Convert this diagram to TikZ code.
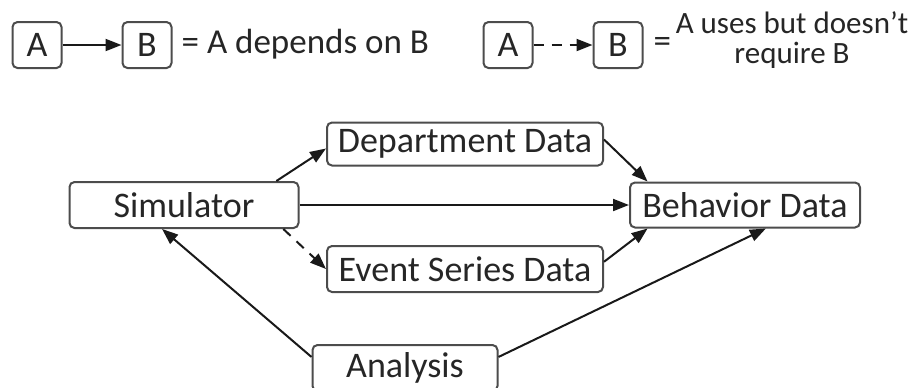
\documentclass[tikz,border=0pt]{standalone}
\usepackage{fontspec}
\setmainfont{Carlito}
\usetikzlibrary{arrows.meta,calc,positioning}

\begin{document}
\begin{tikzpicture}[x=0.5pt,y=-0.5pt,line width=1pt]
    \tikzset{BoxStyle/.style = {draw=black!70, rounded corners=2.5pt,
        inner sep=0pt, font=\fontsize{18}{20}\selectfont, text=black!85},
      EdgeStyle/.style = {-{Triangle[length=8pt,width=6pt]}, black!90},
      TextStyle/.style = {font=\fontsize{17.5}{17}\selectfont, text=black!85}}
    \useasboundingbox (0,0) rectangle (918,387);

    % legend
    \node[BoxStyle,minimum width=24.5pt,minimum height=23pt] (LA0) at (37,45) {A};
    \node[BoxStyle,minimum width=24.5pt,minimum height=23pt] (LB0) at (147,45) {B};
    \draw[EdgeStyle] (LA0) -- (LB0);
    \node[TextStyle,anchor=west] (LT0) at (174,44) {= A depends on B};

    \node[BoxStyle,minimum width=24.5pt,minimum height=23pt] (LA1) at (508,45) {A};
    \node[BoxStyle,minimum width=24.5pt,minimum height=23pt] (LB1) at (618,45) {B};
    \draw[EdgeStyle,dash pattern=on 5pt off 4pt] (LA1) -- (LB1);
    \node[TextStyle,anchor=west] (LE1) at (646,45) {=};
    \node[TextStyle,font=\fontsize{15.5}{15}\selectfont,align=center] (LT1) at (792,40) {A uses but doesn't\\require B};

    % data flow
    \node[BoxStyle,minimum width=114.5pt,minimum height=23pt] (Sim) at (184,205) {Simulator};
    \node[BoxStyle,minimum width=138pt,minimum height=21.5pt] (Dept) at (465,144) {Department Data};
    \node[BoxStyle,minimum width=138pt,minimum height=23pt] (Evt) at (465,269) {Event Series Data};
    \node[BoxStyle,minimum width=115pt,minimum height=22.5pt] (Beh) at (745,205) {Behavior Data};
    \node[BoxStyle,minimum width=92.5pt,minimum height=23pt] (Ana) at (405,368) {Analysis};

    \draw[EdgeStyle] ($(Sim.north east)!0.1!(Sim.north west)$) -- ($(Dept.north west)!0.6!(Dept.south west)$);
    \draw[EdgeStyle] (Sim) -- (Beh);
    \draw[EdgeStyle,dash pattern=on 5pt off 4pt] ($(Sim.south east)!0.07!(Sim.south west)$) -- (Evt.west);
    \draw[EdgeStyle] ($(Dept.north east)!0.4!(Dept.south east)$) -- ($(Beh.north west)!0.08!(Beh.north east)$);
    \draw[EdgeStyle] ($(Evt.north east)!0.35!(Evt.south east)$) -- ($(Beh.south west)!0.08!(Beh.south east)$);
    \draw[EdgeStyle] ($(Ana.north west)!0.27!(Ana.south west)$) -- ($(Sim.south west)!0.405!(Sim.south east)$);
    \draw[EdgeStyle] ($(Ana.north east)!0.27!(Ana.south east)$) -- ($(Beh.south west)!0.59!(Beh.south east)$);
\end{tikzpicture}
\end{document}
